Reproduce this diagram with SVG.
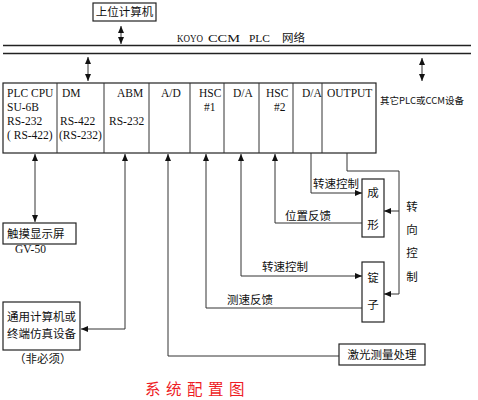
<svg xmlns="http://www.w3.org/2000/svg" width="478" height="400" viewBox="0 0 478 400">
<style>
.bg{fill:#fff}
.box{fill:#fff;stroke:#222;stroke-width:1.2}
.ln{fill:none;stroke:#333;stroke-width:1}
.lat{font-family:"Liberation Serif","Times New Roman",serif;font-size:11.5px;fill:#111}
.cjk{font-family:"Noto Sans CJK SC","Noto Sans CJK JP",sans-serif;font-size:11.5px;fill:#111}
.small{font-size:9.5px}
.net{font-family:"Liberation Serif",serif;font-size:11px;fill:#111}
.title{font-family:"Noto Sans CJK SC",sans-serif;font-size:15.5px;fill:#ee1c25;letter-spacing:5.5px}
</style>
<defs>
<marker id="ah" markerWidth="7" markerHeight="6" refX="7" refY="3" orient="auto-start-reverse" markerUnits="userSpaceOnUse">
<path d="M0,0 L7,3 L0,6 z" fill="#111"/>
</marker>
</defs>
<rect class="bg" x="0" y="0" width="478" height="400"/>

<g id="network">
<line x1="3" y1="45.5" x2="471" y2="45.5" stroke="#222" stroke-width="1.3"/>
<line x1="3" y1="53.5" x2="471" y2="53.5" stroke="#222" stroke-width="1.3"/>
<text class="net" x="177" y="42" textLength="26" lengthAdjust="spacingAndGlyphs">KOYO</text>
<text class="net" x="208" y="42" textLength="32" lengthAdjust="spacingAndGlyphs">CCM</text>
<text class="net" x="249" y="42" textLength="21" lengthAdjust="spacingAndGlyphs">PLC</text>
<text class="cjk" x="282" y="42">网络</text>
</g>

<g id="host">
<rect class="box" x="93" y="3" width="63" height="18"/>
<text class="cjk" x="124.5" y="16" text-anchor="middle">上位计算机</text>
</g>

<g id="plc-rack">
<rect class="box" x="3" y="83" width="373" height="70"/>
<line class="ln" x1="57" y1="83" x2="57" y2="153"/>
<line class="ln" x1="104" y1="83" x2="104" y2="153"/>
<line class="ln" x1="149" y1="83" x2="149" y2="153"/>
<line class="ln" x1="190" y1="83" x2="190" y2="153"/>
<line class="ln" x1="224" y1="83" x2="224" y2="153"/>
<line class="ln" x1="259" y1="83" x2="259" y2="153"/>
<line class="ln" x1="293" y1="83" x2="293" y2="153"/>
<line class="ln" x1="322" y1="83" x2="322" y2="153"/>
<text class="lat" x="7" y="97">PLC CPU</text>
<text class="lat" x="7" y="111">SU-6B</text>
<text class="lat" x="7" y="125">RS-232</text>
<text class="lat" x="7" y="139">( RS-422)</text>
<text class="lat" x="62" y="97">DM</text>
<text class="lat" x="60" y="125">RS-422</text>
<text class="lat" x="59" y="139">(RS-232)</text>
<text class="lat" x="117" y="97">ABM</text>
<text class="lat" x="109" y="125">RS-232</text>
<text class="lat" x="161" y="97">A/D</text>
<text class="lat" x="199" y="97">HSC</text>
<text class="lat" x="204" y="111">#1</text>
<text class="lat" x="233" y="97">D/A</text>
<text class="lat" x="266" y="97">HSC</text>
<text class="lat" x="274" y="111">#2</text>
<text class="lat" x="302" y="97">D/A</text>
<text class="lat" x="327" y="97">OUTPUT</text>
</g>

<g id="other-plc">
<text class="cjk small" x="380" y="104">其它PLC或CCM设备</text>
</g>

<g id="touch-panel">
<rect class="box" x="3" y="223" width="73" height="21"/>
<text class="cjk" x="7" y="238">触摸显示屏</text>
<text class="lat" x="15" y="253">GV-50</text>
</g>

<g id="terminal">
<rect class="box" x="3" y="302" width="77" height="48"/>
<text class="cjk" x="7" y="321">通用计算机或</text>
<text class="cjk" x="7" y="338">终端仿真设备</text>
<text class="cjk" x="14" y="363">（非必须）</text>
</g>

<g id="laser">
<rect class="box" x="339" y="344" width="86" height="21"/>
<text class="cjk" x="382" y="359" text-anchor="middle">激光测量处理</text>
</g>

<g id="chengxing">
<rect class="box" x="362" y="179" width="22" height="58"/>
<text class="cjk" x="373" y="197" text-anchor="middle">成</text>
<text class="cjk" x="373" y="229" text-anchor="middle">形</text>
</g>

<g id="dingzi">
<rect class="box" x="362" y="262" width="22" height="60"/>
<text class="cjk" x="373" y="282" text-anchor="middle">锭</text>
<text class="cjk" x="373" y="309" text-anchor="middle">子</text>
</g>

<g id="labels">
<text class="cjk" x="313" y="188">转速控制</text>
<text class="cjk" x="285" y="220">位置反馈</text>
<text class="cjk" x="262" y="271">转速控制</text>
<text class="cjk" x="227" y="304">测速反馈</text>
<text class="cjk" x="412" y="211" text-anchor="middle">转</text>
<text class="cjk" x="412" y="234" text-anchor="middle">向</text>
<text class="cjk" x="412" y="257" text-anchor="middle">控</text>
<text class="cjk" x="412" y="281" text-anchor="middle">制</text>
</g>

<g id="connectors">
<line class="ln" x1="121" y1="26" x2="121" y2="44" marker-start="url(#ah)" marker-end="url(#ah)"/>
<line class="ln" x1="88" y1="57" x2="88" y2="81" marker-start="url(#ah)" marker-end="url(#ah)"/>
<line class="ln" x1="422" y1="58" x2="422" y2="81" marker-start="url(#ah)" marker-end="url(#ah)"/>
<line class="ln" x1="35" y1="154" x2="35" y2="222" marker-start="url(#ah)" marker-end="url(#ah)"/>
<path class="ln" d="M81,329 H125 V154" marker-start="url(#ah)" marker-end="url(#ah)"/>
<path class="ln" d="M168,154 V356 H339" marker-start="url(#ah)"/>
<path class="ln" d="M206,154 V308 H362" marker-start="url(#ah)"/>
<path class="ln" d="M241,154 V276 H362" marker-start="url(#ah)" marker-end="url(#ah)"/>
<path class="ln" d="M275,154 V223 H362" marker-start="url(#ah)"/>
<path class="ln" d="M311,153 V193 H362" marker-end="url(#ah)"/>
<path class="ln" d="M347,153 V171 H399 V294 H384" marker-end="url(#ah)"/>
<path class="ln" d="M399,211 H384" marker-end="url(#ah)"/>
</g>

<g id="title">
<text class="title" x="145" y="395">系统配置图</text>
</g>
</svg>
